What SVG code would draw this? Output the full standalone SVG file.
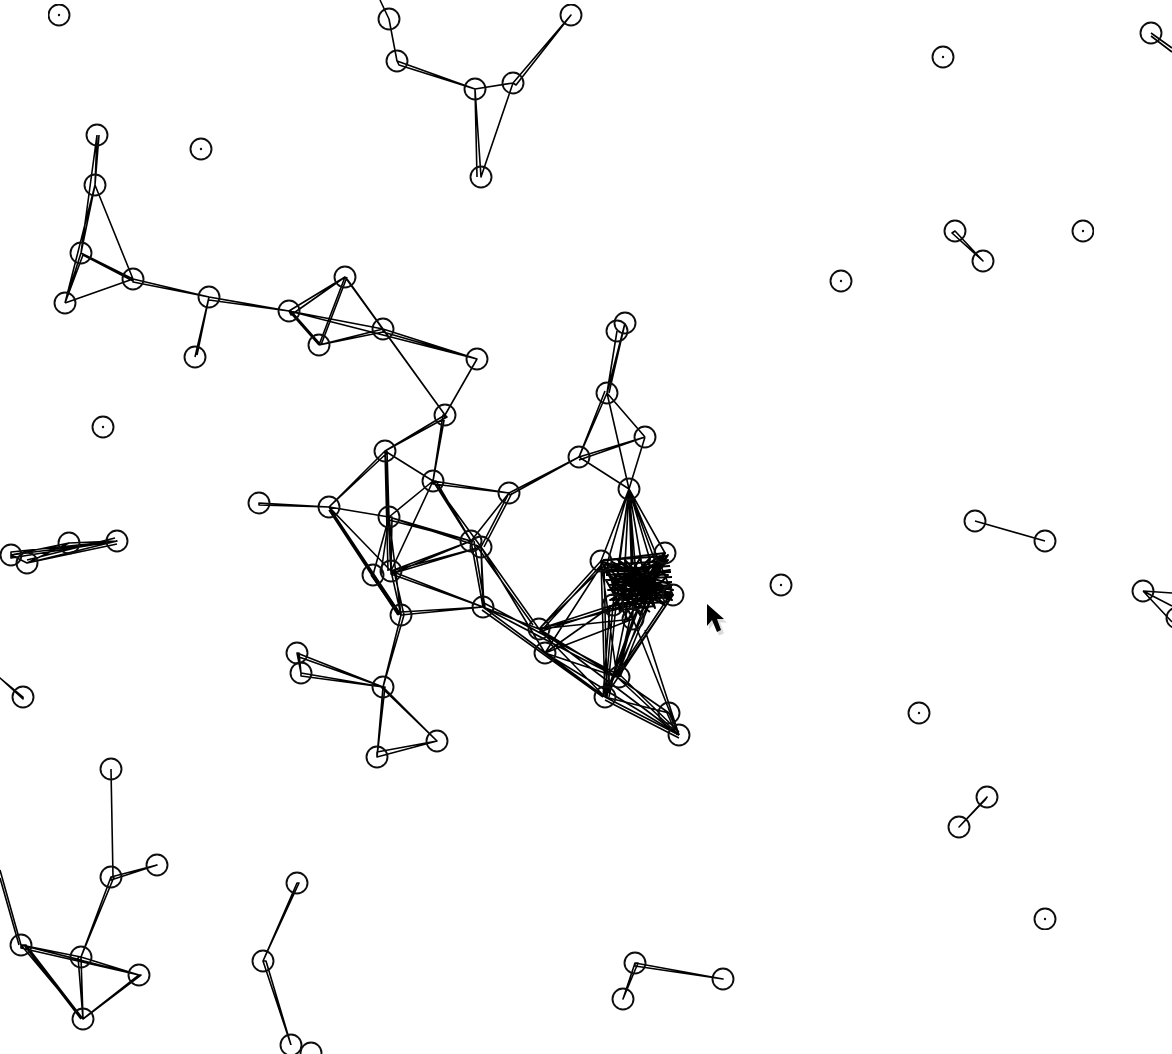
<svg xmlns="http://www.w3.org/2000/svg" width="1172" height="1054" viewBox="0 0 1172 1054">
<style>
.n{fill:none;stroke:#111;stroke-width:1.9}
.d{fill:#111}
#edges path{fill:none;stroke:#000;stroke-width:1.6;stroke-linejoin:round}
#edges .c{stroke-width:2}
</style>
<defs><filter id="s" x="0" y="0" width="100%" height="100%"><feGaussianBlur stdDeviation="0.45"/></filter></defs>
<rect width="1172" height="1054" fill="#fff"/>
<g id="edges" filter="url(#s)">
<path d="M380 0L389 19L397 61M397 61L475 89L399 65ZM475 89L513 83M513 83L571 15L516 85ZM475 89L481 177L513 83M475 89L477 177"/>
<path d="M1151 33L1172 48M1151 36L1172 52M955 231L983 261L952 233ZM975 521L1045 541M987 797L959 827L985 800ZM1143 591L1172 622M1143 591L1172 593M1143 591L1172 606"/>
<path d="M97 135L95 185M97 135L81 253M99 135L95 185L81 253M95 185L133 279M95 185L65 303M81 253L65 303M81 253L133 279M65 303L133 279M65 303L83 255L133 281M133 279L209 297L133 282ZM209 297L195 357M209 297L197 355M209 297L289 311M209 300L289 311"/>
<path d="M289 311L345 277L291 315ZM289 311L319 345M291 311L321 345M289 311L383 329M289 311L477 359M345 277L319 345M347 277L321 345M345 277L383 329L347 279ZM319 345L383 329M319 345L383 332M383 329L477 359L383 332ZM477 359L445 415M383 329L445 415M345 277L445 415"/>
<path d="M445 415L385 451L447 417ZM445 415L433 481L443 415ZM385 451L329 507L387 453ZM385 451L433 481M385 451L389 517L387 451M385 451L391 571M385 451L388 571M259 503L329 507L259 505ZM329 507L389 517M329 507L373 575M329 507L391 571M329 507L401 615M329 510L398 615M433 481L389 517M433 481L509 493L433 484ZM433 481L471 541L436 481ZM433 481L481 547M433 481L391 571"/>
<path d="M389 517L471 541L389 520ZM389 517L481 547M389 517L391 571L392 517ZM389 517L401 615M389 517L373 575M389 517L381 573M391 571L471 541L391 574ZM391 571L481 547L391 574ZM391 571L483 607L391 574ZM391 571L401 615M394 571L404 615M373 575L401 615M371 575L399 615M401 615L483 607L401 612ZM401 615L383 687L404 615ZM509 493L471 541M509 493L481 547M512 493L484 547M509 493L579 457L510 495ZM471 541L483 607M474 541L485 607M481 547L483 607M481 547L484 607"/>
<path d="M481 547L539 629M476 545L533 625M481 547L545 653M483 607L539 629M483 607L545 653M483 607L617 677M483 607L605 697M484 603L617 674M482 610L603 697M539 629L605 697M539 629L617 677M545 653L605 697M545 653L617 677M539 629L679 735M545 653L679 735"/>
<path d="M579 457L607 393M579 457L605 391M579 457L645 437M579 460L645 437M579 457L629 489M607 393L625 323M607 393L617 331M609 393L625 323M607 393L645 437M607 393L629 489M645 437L629 489"/>
<path d="M629 489L601 561M629 489L607 564M629 489L613 605M629 489L618 575M629 489L625 565M629 489L633 565M629 489L633 619M629 489L641 560M629 489L650 560M629 489L665 553M629 489L660 575M629 489L673 595M629 489L623 600M629 489L638 600"/>
<path d="M539 629L601 561M541 631L603 563M539 629L613 605M539 632L613 608M539 629L633 619M539 629L604 566M545 653L601 566M545 653L613 605M545 653L620 600M545 653L633 619M539 629L673 595"/>
<path d="M613 605L605 697M610 605L603 697M616 605L607 697M601 561L605 697M604 565L607 697M601 561L617 677M633 619L605 697M633 619L617 677M630 619L617 677M627 610L609 697M665 553L617 677M673 595L617 677M670 595L615 677M673 595L605 697M650 600L605 697M640 605L612 680M655 590L620 677M633 619L679 735M645 630L679 735"/>
<path d="M617 677L669 713M617 677L679 735M619 674L679 732M605 697L669 713M605 697L679 735M605 700L679 738M669 713L679 735M667 713L677 735"/>
<path class="c" d="M601 561L665 553L613 605L673 595L601 561L633 619L665 553L620 612L607 563L673 590L612 580L668 560L630 605L604 566L650 600L660 556L608 590L672 585L615 565L640 615L660 570L610 600L655 592L625 560L635 610L668 575L603 570L645 605L650 558L615 595L670 595L630 570L655 608L640 558L612 610L665 590L618 560L665 605L608 575L640 600L668 555L625 600L610 565L660 600L635 565L625 615L655 565L615 575L672 600L645 575L613 590L660 560L628 620L606 580L670 570L630 590L650 565L620 605L640 580L668 600L612 562L655 585L625 580L660 590L620 590L650 612"/>
<path class="c" d="M603 560L668 556M604 565L668 561M605 570L670 566M606 575L671 572M608 580L672 577M608 585L672 582M610 590L672 587M610 595L672 592M612 600L672 597M613 605L668 602M620 610L655 606"/>
<path d="M297 653L301 673L299 653ZM297 653L383 687L299 657ZM301 673L383 687L301 676ZM383 687L377 757L385 687ZM383 687L437 741L381 687ZM377 757L437 741L377 752Z"/>
<path d="M111 769L113 877M111 877L157 865L111 880ZM111 877L81 957L114 877ZM81 957L21 945L81 960ZM21 945L0 870M19 945L0 878M21 945L139 975L21 948ZM81 957L139 975M81 957L83 1019L78 957ZM21 945L83 1019L26 945ZM24 945L81 1019M139 975L83 1019L141 975Z"/>
<path d="M297 883L263 961L299 883ZM263 961L291 1045L266 961ZM635 963L723 979L635 966ZM635 963L623 999L638 963ZM23 697L0 678L23 699Z"/>
<path d="M11 555L27 563L117 541L11 555L69 543M11 552L117 541L11 558ZM27 563L69 543L11 555ZM27 560L115 538M27 563L117 544M69 543L117 541M69 546L117 541"/>
</g>
<g id="isolated" filter="url(#s)">
<g id="n1"><circle class="n" cx="59" cy="15" r="10.5"/><circle class="d" cx="59" cy="15" r="1.2"/></g>
<g id="n2"><circle class="n" cx="201" cy="149" r="10.5"/><circle class="d" cx="201" cy="149" r="1.2"/></g>
<g id="n3"><circle class="n" cx="103" cy="427" r="10.5"/><circle class="d" cx="103" cy="427" r="1.2"/></g>
<g id="n4"><circle class="n" cx="943" cy="57" r="10.5"/><circle class="d" cx="943" cy="57" r="1.2"/></g>
<g id="n5"><circle class="n" cx="841" cy="281" r="10.5"/><circle class="d" cx="841" cy="281" r="1.2"/></g>
<g id="n6"><circle class="n" cx="1083" cy="231" r="10.5"/><circle class="d" cx="1083" cy="231" r="1.2"/></g>
<g id="n7"><circle class="n" cx="781" cy="585" r="10.5"/><circle class="d" cx="781" cy="585" r="1.2"/></g>
<g id="n8"><circle class="n" cx="919" cy="713" r="10.5"/><circle class="d" cx="919" cy="713" r="1.2"/></g>
<g id="n9"><circle class="n" cx="1045" cy="919" r="10.5"/><circle class="d" cx="1045" cy="919" r="1.2"/></g>
</g>
<g id="nodes" filter="url(#s)">
<g id="a1"><circle class="n" cx="389" cy="19" r="10.5"/></g>
<g id="a2"><circle class="n" cx="397" cy="61" r="10.5"/></g>
<g id="a3"><circle class="n" cx="475" cy="89" r="10.5"/></g>
<g id="a4"><circle class="n" cx="513" cy="83" r="10.5"/></g>
<g id="a5"><circle class="n" cx="571" cy="15" r="10.5"/></g>
<g id="a6"><circle class="n" cx="481" cy="177" r="10.5"/></g>
<g id="b1"><circle class="n" cx="1151" cy="33" r="10.5"/></g>
<g id="b2"><circle class="n" cx="955" cy="231" r="10.5"/></g>
<g id="b3"><circle class="n" cx="983" cy="261" r="10.5"/></g>
<g id="b4"><circle class="n" cx="975" cy="521" r="10.5"/></g>
<g id="b5"><circle class="n" cx="1045" cy="541" r="10.5"/></g>
<g id="b6"><circle class="n" cx="1143" cy="591" r="10.5"/></g>
<g id="b7"><circle class="n" cx="1177" cy="618" r="10.5"/></g>
<g id="b8"><circle class="n" cx="987" cy="797" r="10.5"/></g>
<g id="b9"><circle class="n" cx="959" cy="827" r="10.5"/></g>
<g id="c1"><circle class="n" cx="97" cy="135" r="10.5"/></g>
<g id="c2"><circle class="n" cx="95" cy="185" r="10.5"/></g>
<g id="c3"><circle class="n" cx="81" cy="253" r="10.5"/></g>
<g id="c4"><circle class="n" cx="65" cy="303" r="10.5"/></g>
<g id="c5"><circle class="n" cx="133" cy="279" r="10.5"/></g>
<g id="c6"><circle class="n" cx="209" cy="297" r="10.5"/></g>
<g id="c7"><circle class="n" cx="195" cy="357" r="10.5"/></g>
<g id="c8"><circle class="n" cx="289" cy="311" r="10.5"/></g>
<g id="c9"><circle class="n" cx="345" cy="277" r="10.5"/></g>
<g id="c10"><circle class="n" cx="319" cy="345" r="10.5"/></g>
<g id="c11"><circle class="n" cx="383" cy="329" r="10.5"/></g>
<g id="c12"><circle class="n" cx="477" cy="359" r="10.5"/></g>
<g id="c13"><circle class="n" cx="445" cy="415" r="10.5"/></g>
<g id="d1"><circle class="n" cx="385" cy="451" r="10.5"/></g>
<g id="d2"><circle class="n" cx="433" cy="481" r="10.5"/></g>
<g id="d3"><circle class="n" cx="259" cy="503" r="10.5"/></g>
<g id="d4"><circle class="n" cx="329" cy="507" r="10.5"/></g>
<g id="d5"><circle class="n" cx="389" cy="517" r="10.5"/></g>
<g id="d6"><circle class="n" cx="509" cy="493" r="10.5"/></g>
<g id="d7"><circle class="n" cx="471" cy="541" r="10.5"/></g>
<g id="d8"><circle class="n" cx="481" cy="547" r="10.5"/></g>
<g id="d9"><circle class="n" cx="373" cy="575" r="10.5"/></g>
<g id="d10"><circle class="n" cx="391" cy="571" r="10.5"/></g>
<g id="d11"><circle class="n" cx="401" cy="615" r="10.5"/></g>
<g id="d12"><circle class="n" cx="483" cy="607" r="10.5"/></g>
<g id="e1"><circle class="n" cx="625" cy="323" r="10.5"/></g>
<g id="e2"><circle class="n" cx="617" cy="331" r="10.5"/></g>
<g id="e3"><circle class="n" cx="607" cy="393" r="10.5"/></g>
<g id="e4"><circle class="n" cx="645" cy="437" r="10.5"/></g>
<g id="e5"><circle class="n" cx="579" cy="457" r="10.5"/></g>
<g id="e6"><circle class="n" cx="629" cy="489" r="10.5"/></g>
<g id="e7"><circle class="n" cx="601" cy="561" r="10.5"/></g>
<g id="e8"><circle class="n" cx="665" cy="553" r="10.5"/></g>
<g id="e9"><circle class="n" cx="673" cy="595" r="10.5"/></g>
<g id="e10"><circle class="n" cx="613" cy="605" r="10.5"/></g>
<g id="e11"><circle class="n" cx="633" cy="619" r="10.5"/></g>
<g id="e12"><circle class="n" cx="539" cy="629" r="10.5"/></g>
<g id="e13"><circle class="n" cx="545" cy="653" r="10.5"/></g>
<g id="e14"><circle class="n" cx="619" cy="677" r="10.5"/></g>
<g id="e15"><circle class="n" cx="605" cy="697" r="10.5"/></g>
<g id="e16"><circle class="n" cx="669" cy="713" r="10.5"/></g>
<g id="e17"><circle class="n" cx="679" cy="735" r="10.5"/></g>
<g id="f1"><circle class="n" cx="297" cy="653" r="10.5"/></g>
<g id="f2"><circle class="n" cx="301" cy="673" r="10.5"/></g>
<g id="f3"><circle class="n" cx="383" cy="687" r="10.5"/></g>
<g id="f4"><circle class="n" cx="377" cy="757" r="10.5"/></g>
<g id="f5"><circle class="n" cx="437" cy="741" r="10.5"/></g>
<g id="g1"><circle class="n" cx="111" cy="769" r="10.5"/></g>
<g id="g2"><circle class="n" cx="111" cy="877" r="10.5"/></g>
<g id="g3"><circle class="n" cx="157" cy="865" r="10.5"/></g>
<g id="g4"><circle class="n" cx="81" cy="957" r="10.5"/></g>
<g id="g5"><circle class="n" cx="21" cy="945" r="10.5"/></g>
<g id="g6"><circle class="n" cx="139" cy="975" r="10.5"/></g>
<g id="g7"><circle class="n" cx="83" cy="1019" r="10.5"/></g>
<g id="h1"><circle class="n" cx="297" cy="883" r="10.5"/></g>
<g id="h2"><circle class="n" cx="263" cy="961" r="10.5"/></g>
<g id="h3"><circle class="n" cx="291" cy="1045" r="10.5"/></g>
<g id="h4"><circle class="n" cx="311" cy="1053" r="10.5"/></g>
<g id="i1"><circle class="n" cx="635" cy="963" r="10.5"/></g>
<g id="i2"><circle class="n" cx="723" cy="979" r="10.5"/></g>
<g id="i3"><circle class="n" cx="623" cy="999" r="10.5"/></g>
<g id="j1"><circle class="n" cx="23" cy="697" r="10.5"/></g>
<g id="k1"><circle class="n" cx="11" cy="555" r="10.5"/></g>
<g id="k2"><circle class="n" cx="27" cy="563" r="10.5"/></g>
<g id="k3"><circle class="n" cx="69" cy="543" r="10.5"/></g>
<g id="k4"><circle class="n" cx="117" cy="541" r="10.5"/></g>
</g>
<polygon points="708,606 708,628 713,622 718,634 723,632 719,621 726,621" fill="#999" opacity=".35" transform="translate(1 1.5)"/>
<polygon points="707,604 707,626 712,620 717,632 721,630 717,619 724,619" fill="#000"/>
</svg>
